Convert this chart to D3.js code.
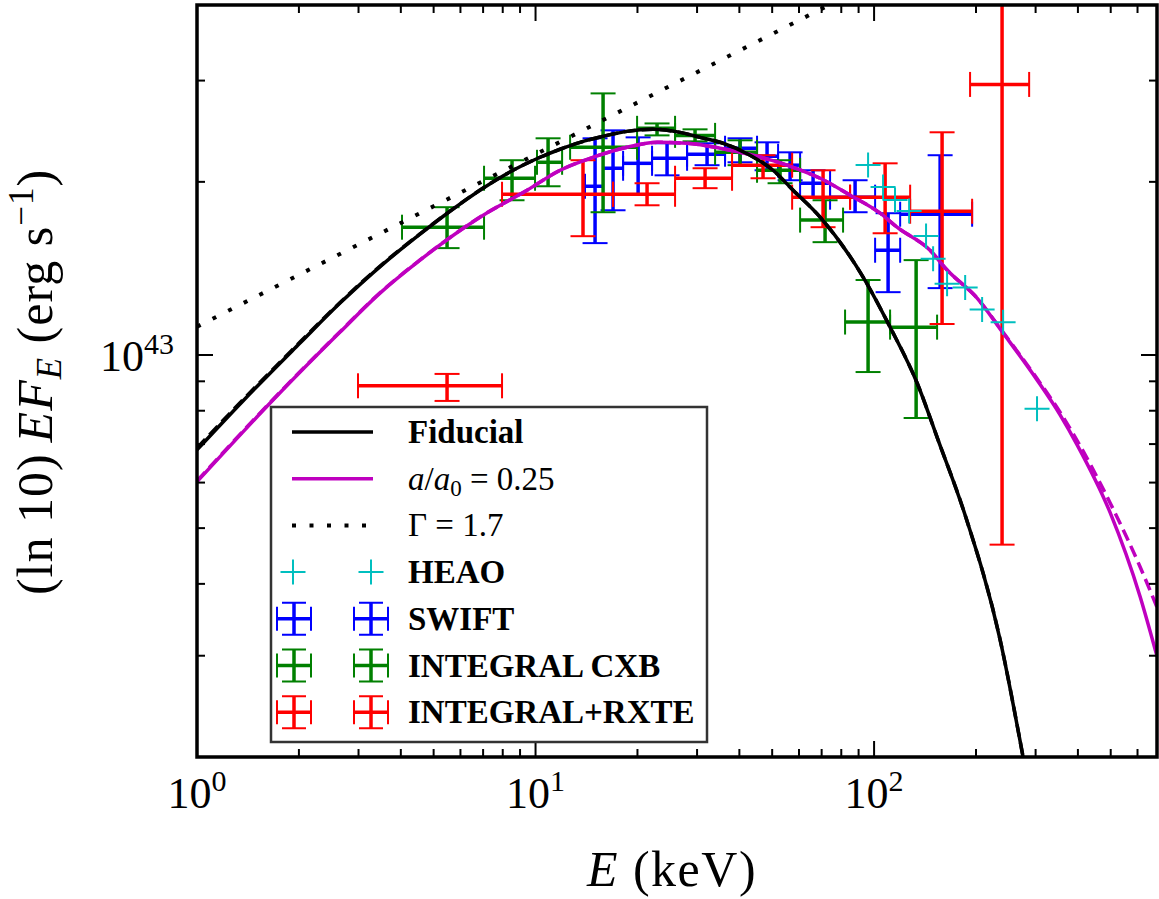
<!DOCTYPE html>
<html>
<head>
<meta charset="utf-8">
<script src="https://cdn.jsdelivr.net/npm/d3@7"></script>
<style>
body { margin: 0; background: #fff; }
text { font-family: "Liberation Serif", "Times New Roman", serif; }
</style>
</head>
<body>
<script>
var W = 1159, H = 899;
var X0 = 197, X1 = 1157, Y0 = 5, Y1 = 757;

// model curves (E in keV, (ln10) E F_E in erg/s)
var fidE = [1, 1.367, 2.015, 2.646, 3.544, 4.558, 5.589, 6.997, 8.581, 10.31, 11.82, 13.54, 15.83, 18.64, 22.24, 26.73, 30.62, 35.81, 43.02, 50.30, 57.65, 69.28, 92.8, 111.5, 134.0, 154.5, 185.7, 235.6, 275.5, 309];
var fidF = [0.684e43, 0.832e43, 1.049e43, 1.231e43, 1.439e43, 1.622e43, 1.778e43, 1.950e43, 2.095e43, 2.207e43, 2.279e43, 2.343e43, 2.400e43, 2.448e43, 2.468e43, 2.438e43, 2.390e43, 2.334e43, 2.225e43, 2.095e43, 1.934e43, 1.736e43, 1.366e43, 1.118e43, 0.894e43, 0.712e43, 0.527e43, 0.320e43, 0.200e43, 0.138e43];
var fidDashF = [0.689e43, 0.836e43, 1.053e43, 1.234e43, 1.442e43, 1.624e43, 1.779e43, 1.951e43, 2.095e43, 2.207e43, 2.279e43, 2.343e43, 2.400e43, 2.448e43, 2.468e43, 2.438e43, 2.390e43, 2.334e43, 2.225e43, 2.095e43, 1.934e43, 1.736e43, 1.366e43, 1.118e43, 0.894e43, 0.712e43, 0.527e43, 0.320e43, 0.200e43, 0.138e43];

var accE = [1, 1.677, 2.646, 3.472, 4.558, 6.855, 9.438, 11.82, 14.79, 18.64, 22.85, 28.03, 35.09, 43.91, 57.65, 69.28, 84.95, 104.2, 116.9, 146.3, 164.3, 201.5, 240.5, 302.9, 354.3, 397.9, 498.1, 610.8, 685.5];
var accF = [0.602e43, 0.835e43, 1.096e43, 1.281e43, 1.462e43, 1.736e43, 1.934e43, 2.095e43, 2.207e43, 2.297e43, 2.343e43, 2.334e43, 2.288e43, 2.225e43, 2.120e43, 2.029e43, 1.896e43, 1.764e43, 1.668e43, 1.521e43, 1.405e43, 1.256e43, 1.092e43, 0.905e43, 0.787e43, 0.698e43, 0.532e43, 0.380e43, 0.299e43];
var accDashF = [0.604e43, 0.837e43, 1.098e43, 1.283e43, 1.463e43, 1.737e43, 1.934e43, 2.095e43, 2.207e43, 2.297e43, 2.343e43, 2.334e43, 2.288e43, 2.225e43, 2.120e43, 2.029e43, 1.896e43, 1.764e43, 1.668e43, 1.521e43, 1.405e43, 1.256e43, 1.095e43, 0.91e43, 0.795e43, 0.71e43, 0.553e43, 0.428e43, 0.364e43];

var gammaE = [1, 100];
var gammaF = [1.12e43, 4.45e43];

// HEAO
var heaoE = [96.0, 106.3, 115.3, 126.9, 142.4, 149.4, 164.3, 185.8, 208.5, 240.5, 302.9];
var heaoF = [2.14e43, 1.96e43, 1.86e43, 1.78e43, 1.61e43, 1.47e43, 1.33e43, 1.31e43, 1.20e43, 1.14e43, 0.806e43];

// SWIFT
var swiftE   = [14.99, 16.94, 20.09, 24.46, 32.11, 40.19, 48.29, 56.48, 66.04, 87.88, 110.0, 156.7];
var swiftElo = [14.00, 15.83, 18.14, 22.09, 28.03, 36.29, 45.11, 52.05, 60.46, 74.13, 100.7, 119.4];
var swiftEhi = [15.83, 18.14, 22.09, 28.03, 36.29, 45.11, 52.05, 60.46, 74.13, 100.7, 119.4, 194.8];
var swiftF   = [1.965e43, 2.112e43, 2.154e43, 2.198e43, 2.234e43, 2.288e43, 2.216e43, 2.138e43, 1.989e43, 1.881e43, 1.521e43, 1.757e43];
var swiftFlo = [1.565e43, 1.785e43, 1.90e43, 2.053e43, 2.138e43, 2.163e43, 2.095e43, 2.013e43, 1.881e43, 1.771e43, 1.286e43, 1.307e43];
var swiftFhi = [2.381e43, 2.458e43, 2.390e43, 2.334e43, 2.334e43, 2.381e43, 2.343e43, 2.251e43, 2.095e43, 2.013e43, 1.764e43, 2.225e43];

// INTEGRAL CXB
var cxbE   = [5.478, 8.522, 10.89, 15.83, 22.85, 29.59, 40.19, 52.76, 71.65, 96.0, 133.1];
var cxbElo = [4.033, 7.045, 10.10, 12.65, 19.95, 25.83, 33.91, 45.11, 60.46, 82.09, 111.5];
var cxbEhi = [7.045, 9.966, 11.98, 19.95, 25.83, 33.91, 45.11, 60.46, 80.98, 111.5, 153.5];
var cxbF   = [1.668e43, 2.029e43, 2.163e43, 2.297e43, 2.478e43, 2.409e43, 2.251e43, 2.095e43, 1.716e43, 1.141e43, 1.118e43];
var cxbFlo = [1.534e43, 1.858e43, 1.965e43, 1.771e43, 2.409e43, 2.352e43, 2.138e43, 1.989e43, 1.571e43, 0.934e43, 0.777e43];
var cxbFhi = [1.807e43, 2.181e43, 2.381e43, 2.850e43, 2.527e43, 2.468e43, 2.362e43, 2.181e43, 1.858e43, 1.350e43, 1.462e43];

// INTEGRAL+RXTE
var rxteE   = [5.478, 13.81, 21.35, 31.68, 46.99, 70.68, 107.8, 158.8, 238.8];
var rxteElo = [2.989, 7.962, 16.94, 25.83, 38.06, 57.27, 84.94, 127.8, 192.1];
var rxteEhi = [7.962, 16.94, 25.83, 38.06, 57.27, 84.94, 127.8, 194.8, 287.1];
var rxteF   = [0.884e43, 1.903e43, 1.903e43, 2.029e43, 2.138e43, 1.881e43, 1.881e43, 1.778e43, 2.954e43];
var rxteFlo = [0.832e43, 1.609e43, 1.821e43, 1.950e43, 2.029e43, 1.668e43, 1.628e43, 1.132e43, 0.468e43];
var rxteFhi = [0.927e43, 2.181e43, 1.989e43, 2.112e43, 2.225e43, 2.095e43, 2.154e43, 2.439e43, 1.2e44];

var xMajor = [1, 10, 100];
var yMajor = [1e43];

var x = d3.scaleLog().domain([1, 685]).range([X0, X1]);
var y = d3.scaleLog().domain([2e42, 4.06e43]).range([Y1, Y0]);

var svg = d3.select("body").append("svg")
    .attr("width", W)
    .attr("height", H);

svg.append("defs").append("clipPath").attr("id", "plotclip")
    .append("rect").attr("x", X0).attr("y", Y0).attr("width", X1 - X0).attr("height", Y1 - Y0);

var plot = svg.append("g").attr("clip-path", "url(#plotclip)");

function errorbars(E, Elo, Ehi, F, Flo, Fhi, color) {
  var d = E.map(function(e, i) {
    return {e: e, elo: Elo[i], ehi: Ehi[i], f: F[i], flo: Flo[i], fhi: Fhi[i]};
  });
  var g = plot.append("g").selectAll("g").data(d).enter().append("g")
      .attr("stroke", color).attr("fill", "none");
  g.append("line").attr("stroke-width", 3.5)
      .attr("x1", function(d) { return x(d.e); }).attr("x2", function(d) { return x(d.e); })
      .attr("y1", function(d) { return y(d.flo); }).attr("y2", function(d) { return y(d.fhi); });
  g.append("line").attr("stroke-width", 3.5)
      .attr("x1", function(d) { return x(d.elo); }).attr("x2", function(d) { return x(d.ehi); })
      .attr("y1", function(d) { return y(d.f); }).attr("y2", function(d) { return y(d.f); });
  var c = 12.5;
  ["flo", "fhi"].forEach(function(k) {
    g.append("line").attr("stroke-width", 2)
        .attr("x1", function(d) { return x(d.e) - c; }).attr("x2", function(d) { return x(d.e) + c; })
        .attr("y1", function(d) { return y(d[k]); }).attr("y2", function(d) { return y(d[k]); });
  });
  ["elo", "ehi"].forEach(function(k) {
    g.append("line").attr("stroke-width", 2)
        .attr("x1", function(d) { return x(d[k]); }).attr("x2", function(d) { return x(d[k]); })
        .attr("y1", function(d) { return y(d.f) - c; }).attr("y2", function(d) { return y(d.f) + c; });
  });
}

errorbars(swiftE, swiftElo, swiftEhi, swiftF, swiftFlo, swiftFhi, "#0000ff");
errorbars(cxbE, cxbElo, cxbEhi, cxbF, cxbFlo, cxbFhi, "#008000");
errorbars(rxteE, rxteElo, rxteEhi, rxteF, rxteFlo, rxteFhi, "#ff0000");

var line = d3.line()
    .x(function(d) { return x(d[0]); })
    .y(function(d) { return y(d[1]); })
    .curve(d3.curveMonotoneX);

function curve(E, F, color, dash, lw) {
  plot.append("path")
      .datum(E.map(function(e, i) { return [e, F[i]]; }))
      .attr("d", line)
      .attr("fill", "none")
      .attr("stroke", color)
      .attr("stroke-width", lw)
      .attr("stroke-dasharray", dash);
}

curve(accE, accDashF, "#bf00bf", "12,6", 3.5);
curve(fidE, fidDashF, "#000000", "12,6", 3.5);
curve(accE, accF, "#bf00bf", null, 3.5);
curve(fidE, fidF, "#000000", null, 3.5);
curve(gammaE, gammaF, "#000000", "4,13.5", 4);

function plus(g, cx, cy, color) {
  g.append("path")
      .attr("d", "M" + (cx - 12.5) + "," + cy + "H" + (cx + 12.5) + "M" + cx + "," + (cy - 12.5) + "V" + (cy + 12.5))
      .attr("stroke", color).attr("stroke-width", 2).attr("fill", "none");
}
heaoE.forEach(function(e, i) { plus(plot, x(e), y(heaoF[i]), "#00bfbf"); });

// ticks
var tk = svg.append("g").attr("stroke", "#000").attr("stroke-width", 2);
var xMinor = [], yMinor = [];
[1, 10, 100].forEach(function(p) {
  for (var k = 2; k <= 9; k++) if (p * k < 685) xMinor.push(p * k);
});
[1e42, 1e43].forEach(function(p) {
  for (var k = 2; k <= 9; k++) if (p * k >= 2e42 && p * k < 4e43) yMinor.push(p * k);
});
function xtick(v, len) {
  var px = x(v);
  tk.append("line").attr("x1", px).attr("x2", px).attr("y1", Y1).attr("y2", Y1 - len);
  tk.append("line").attr("x1", px).attr("x2", px).attr("y1", Y0).attr("y2", Y0 + len);
}
function ytick(v, len) {
  var py = y(v);
  tk.append("line").attr("y1", py).attr("y2", py).attr("x1", X0).attr("x2", X0 + len);
  tk.append("line").attr("y1", py).attr("y2", py).attr("x1", X1).attr("x2", X1 - len);
}
xMajor.forEach(function(v) { if (v > 1) xtick(v, 16); });
xMinor.forEach(function(v) { xtick(v, 8); });
yMajor.forEach(function(v) { ytick(v, 16); });
yMinor.forEach(function(v) { if (v > 2e42) ytick(v, 8); });

// frame
svg.append("rect").attr("x", X0).attr("y", Y0).attr("width", X1 - X0).attr("height", Y1 - Y0)
    .attr("fill", "none").attr("stroke", "#000").attr("stroke-width", 3.5);

// tick labels
xMajor.forEach(function(v) {
  var t = svg.append("text").attr("x", x(v)).attr("y", 808).attr("text-anchor", "middle")
      .attr("font-size", 44);
  t.append("tspan").text("10");
  t.append("tspan").attr("dy", -17).attr("font-size", 30).text(Math.round(Math.log10(v)));
});
yMajor.forEach(function(v) {
  var t = svg.append("text").attr("x", 174).attr("y", y(v) + 16).attr("text-anchor", "end")
      .attr("font-size", 44);
  t.append("tspan").text("10");
  t.append("tspan").attr("dy", -17).attr("font-size", 30).text(Math.round(Math.log10(v)));
});

// axis labels
var xl = svg.append("text").attr("x", 672).attr("y", 886).attr("text-anchor", "middle")
    .attr("font-size", 50).attr("letter-spacing", 1.5);
xl.append("tspan").attr("font-style", "italic").text("E");
xl.append("tspan").text(" (keV)");

var yl = svg.append("text").attr("transform", "translate(52,382) rotate(-90)")
    .attr("text-anchor", "middle").attr("font-size", 50).attr("letter-spacing", 1);
yl.append("tspan").text("(ln 10)\u2009");
yl.append("tspan").attr("font-style", "italic").text("EF");
yl.append("tspan").attr("font-style", "italic").attr("font-size", 35).attr("dy", 9).text("E");
yl.append("tspan").attr("dy", -9).text(" (erg s");
yl.append("tspan").attr("font-size", 35).attr("dy", -19).text("\u22121");
yl.append("tspan").attr("dy", 19).text(")");

// legend
var lg = svg.append("g");
lg.append("rect").attr("x", 271).attr("y", 407).attr("width", 436).attr("height", 335)
    .attr("fill", "#fff").attr("stroke", "#333").attr("stroke-width", 2.5);

var rowY = function(i) { return 432 + i * 46.7; };
var lx0 = 292, lx1 = 373, tx = 408;

function legLine(i, color, dash, lw) {
  lg.append("line").attr("x1", lx0).attr("x2", lx1).attr("y1", rowY(i)).attr("y2", rowY(i))
      .attr("stroke", color).attr("stroke-width", lw).attr("stroke-dasharray", dash);
}
legLine(0, "#000", null, 3.5);
legLine(1, "#bf00bf", null, 3.5);
legLine(2, "#000", "4,13.5", 4);
plus(lg, 293, rowY(3), "#00bfbf");
plus(lg, 371, rowY(3), "#00bfbf");

function legErr(i, color) {
  [294, 371].forEach(function(cx) {
    var cy = rowY(i);
    var g = lg.append("g").attr("stroke", color).attr("fill", "none");
    g.append("path").attr("stroke-width", 3.5)
        .attr("d", "M" + (cx - 17) + "," + cy + "H" + (cx + 17) + "M" + cx + "," + (cy - 16) + "V" + (cy + 16));
    g.append("path").attr("stroke-width", 2)
        .attr("d", "M" + (cx - 12) + "," + (cy - 16) + "H" + (cx + 12) +
                   "M" + (cx - 12) + "," + (cy + 16) + "H" + (cx + 12) +
                   "M" + (cx - 17) + "," + (cy - 12) + "V" + (cy + 12) +
                   "M" + (cx + 17) + "," + (cy - 12) + "V" + (cy + 12));
  });
}
legErr(4, "#0000ff");
legErr(5, "#008000");
legErr(6, "#ff0000");

function legText(i, bold) {
  return lg.append("text").attr("x", tx).attr("y", rowY(i) + 11).attr("font-size", 33)
      .attr("font-weight", bold ? "bold" : "normal");
}
legText(0, true).text("Fiducial");
var t1 = legText(1, false);
t1.append("tspan").attr("font-style", "italic").text("a");
t1.append("tspan").text("/");
t1.append("tspan").attr("font-style", "italic").text("a");
t1.append("tspan").attr("font-size", 23).attr("dy", 6).text("0");
t1.append("tspan").attr("dy", -6).text(" = 0.25");
legText(2, false).text("\u0393 = 1.7");
legText(3, true).text("HEAO");
legText(4, true).text("SWIFT");
legText(5, true).text("INTEGRAL CXB");
legText(6, true).text("INTEGRAL+RXTE");
</script>
</body>
</html>
